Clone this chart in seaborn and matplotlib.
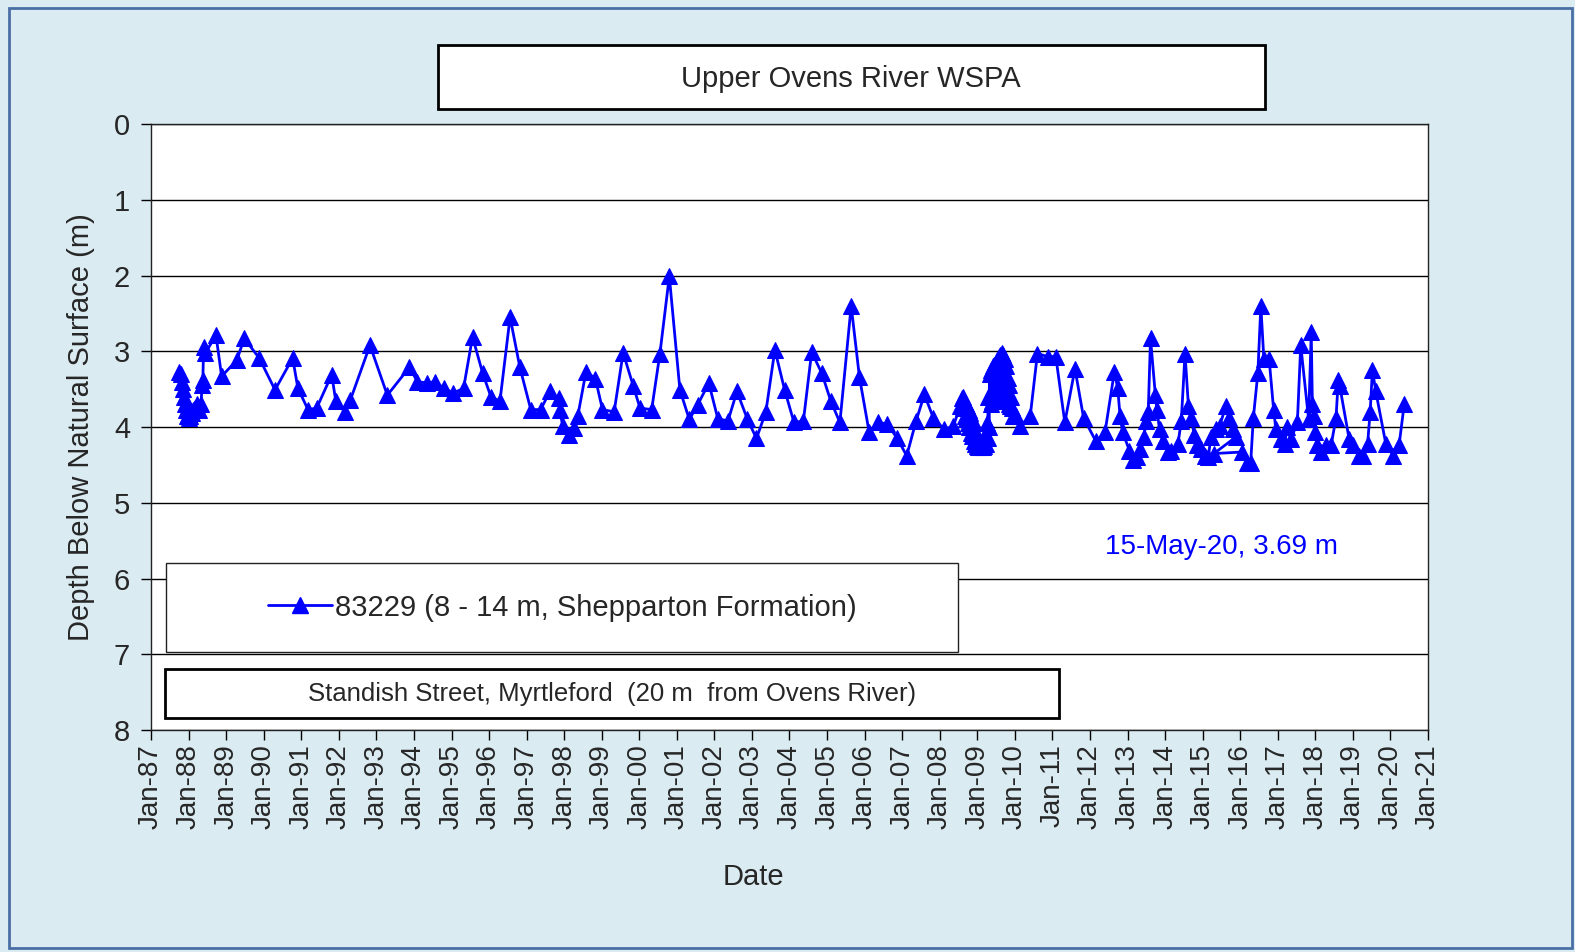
import numpy as np
import pandas as pd
import seaborn as sns
import matplotlib.pyplot as plt
import matplotlib.dates as mdates
from matplotlib.patches import Rectangle
from matplotlib.lines import Line2D

# ---------------- data (decimal year, depth m) ----------------
years = [
    1987.75, 1987.79, 1987.82, 1987.85, 1987.88, 1987.91, 1987.94, 1987.97, 1988.00, 1988.04,
    1988.08, 1988.12, 1988.16, 1988.22, 1988.28, 1988.33, 1988.36, 1988.38, 1988.40, 1988.45,
    1988.73, 1988.88, 1989.28, 1989.48, 1989.88, 1990.30, 1990.77, 1990.91, 1991.18, 1991.41,
    1991.81, 1991.92, 1992.16, 1992.31, 1992.83, 1993.29, 1993.88, 1994.09, 1994.36, 1994.56,
    1994.80, 1995.05, 1995.32, 1995.56, 1995.83, 1996.05, 1996.29, 1996.56, 1996.82, 1997.11,
    1997.37, 1997.62, 1997.85, 1997.88, 1997.96, 1998.12, 1998.27, 1998.36, 1998.58, 1998.83,
    1999.02, 1999.33, 1999.57, 1999.84, 2000.02, 2000.33, 2000.55, 2000.80, 2001.08, 2001.33,
    2001.55, 2001.85, 2002.09, 2002.36, 2002.60, 2002.88, 2003.12, 2003.37, 2003.61, 2003.87,
    2004.12, 2004.37, 2004.59, 2004.86, 2005.10, 2005.34, 2005.64, 2005.86, 2006.12, 2006.36,
    2006.60, 2006.87, 2007.12, 2007.37, 2007.59, 2007.83, 2008.12, 2008.36,
    # dense logger period 2008-2009
    2008.55, 2008.58, 2008.61, 2008.63, 2008.65, 2008.67, 2008.69, 2008.71, 2008.73, 2008.75,
    2008.77, 2008.79, 2008.81, 2008.83, 2008.85, 2008.87, 2008.89, 2008.91, 2008.93, 2008.95,
    2008.97, 2008.99, 2009.01, 2009.03, 2009.05, 2009.07, 2009.09, 2009.11, 2009.13, 2009.15,
    2009.17, 2009.19, 2009.21, 2009.23, 2009.25, 2009.27, 2009.29, 2009.31, 2009.33, 2009.35,
    2009.37, 2009.39, 2009.41, 2009.43, 2009.45, 2009.47, 2009.49, 2009.51, 2009.53, 2009.55,
    2009.57, 2009.59, 2009.61, 2009.63, 2009.65, 2009.67, 2009.69, 2009.71, 2009.73, 2009.75,
    2009.77, 2009.79, 2009.81, 2009.83, 2009.85, 2009.87, 2009.90, 2009.93, 2009.96,
    # back to manual readings
    2010.03, 2010.14, 2010.41, 2010.60, 2010.87, 2011.09, 2011.33, 2011.60, 2011.83, 2012.16,
    2012.40, 2012.65, 2012.74, 2012.80, 2012.87, 2013.05, 2013.14, 2013.25, 2013.34, 2013.43,
    2013.50, 2013.55, 2013.61, 2013.74, 2013.78, 2013.85, 2013.94, 2014.07, 2014.15, 2014.34,
    2014.43, 2014.53, 2014.62, 2014.68, 2014.78, 2014.85, 2014.95, 2015.05, 2015.15, 2015.22,
    2015.35, 2015.45, 2015.62, 2015.70, 2015.80, 2015.89, 2015.30, 2016.06, 2016.19, 2016.28,
    2016.35, 2016.47, 2016.55, 2016.63, 2016.77, 2016.89, 2016.95, 2017.08, 2017.18, 2017.25,
    2017.35, 2017.52, 2017.61, 2017.82, 2017.89, 2017.92, 2017.95, 2018.00, 2018.05, 2018.15,
    2018.28, 2018.42, 2018.55, 2018.61, 2018.65, 2018.90, 2019.00, 2019.16, 2019.28, 2019.39,
    2019.46, 2019.52, 2019.61, 2019.88, 2020.08, 2020.23, 2020.37,
]
depth = [
    3.27, 3.30, 3.40, 3.50, 3.60, 3.70, 3.78, 3.85, 3.88, 3.86,
    3.82, 3.78, 3.75, 3.70, 3.78, 3.70, 3.45, 3.38, 2.95, 3.02,
    2.79, 3.33, 3.12, 2.83, 3.09, 3.51, 3.09, 3.49, 3.77, 3.75,
    3.31, 3.66, 3.80, 3.64, 2.92, 3.58, 3.21, 3.40, 3.42, 3.40,
    3.49, 3.55, 3.49, 2.81, 3.29, 3.60, 3.66, 2.55, 3.21, 3.77,
    3.77, 3.53, 3.62, 3.77, 3.99, 4.10, 4.01, 3.86, 3.27, 3.36,
    3.77, 3.80, 3.02, 3.46, 3.75, 3.77, 3.03, 2.01, 3.51, 3.90,
    3.71, 3.42, 3.89, 3.92, 3.53, 3.90, 4.15, 3.80, 2.98, 3.51,
    3.94, 3.92, 3.01, 3.29, 3.66, 3.94, 2.40, 3.34, 4.07, 3.94,
    3.96, 4.15, 4.38, 3.92, 3.57, 3.88, 4.03, 3.99,
    3.72, 3.62, 3.60, 3.75, 3.66, 3.85, 3.70, 3.90, 3.72, 3.95,
    3.78, 4.00, 3.82, 4.08, 3.90, 4.12, 3.95, 4.18, 4.05, 4.22,
    4.10, 4.25, 4.15, 4.26, 4.20, 4.27, 4.22, 4.26, 4.20, 4.27,
    4.22, 4.25, 4.10, 4.22, 3.95, 4.15, 3.60, 4.00, 3.30, 3.70,
    3.25, 3.65, 3.20, 3.62, 3.18, 3.60, 3.15, 3.58, 3.12, 3.55,
    3.08, 3.50, 3.05, 3.45, 3.02, 3.50, 3.05, 3.55, 3.10, 3.60,
    3.20, 3.65, 3.35, 3.70, 3.45, 3.72, 3.60, 3.75, 3.85,
    3.85, 3.99, 3.85, 3.03, 3.07, 3.07, 3.94, 3.23, 3.88, 4.19,
    4.07, 3.27, 3.49, 3.85, 4.07, 4.31, 4.43, 4.40, 4.29, 4.13,
    3.92, 3.80, 2.83, 3.58, 3.77, 4.03, 4.19, 4.33, 4.31, 4.23,
    3.92, 3.03, 3.72, 3.88, 4.10, 4.24, 4.29, 4.38, 4.40, 4.13,
    4.03, 3.99, 3.72, 3.88, 4.03, 4.13, 4.35, 4.33, 4.47, 4.47,
    3.88, 3.29, 2.40, 3.10, 3.10, 3.77, 4.03, 4.16, 4.22, 4.00,
    4.16, 3.94, 2.92, 3.90, 2.75, 3.70, 3.85, 4.07, 4.24, 4.33,
    4.24, 4.24, 3.88, 3.38, 3.46, 4.16, 4.24, 4.38, 4.38, 4.23,
    3.80, 3.25, 3.53, 4.23, 4.38, 4.24, 3.69,
]

series_label = "83229 (8 - 14 m, Shepparton Formation)"
site_label = "Standish Street, Myrtleford  (20 m  from Ovens River)"
chart_title = "Upper Ovens River WSPA"
last_reading = "15-May-20, 3.69 m"


def to_date(y):
    yr = int(np.floor(y))
    return pd.Timestamp(yr, 1, 1) + pd.Timedelta(days=(y - yr) * 365.25)


df = pd.DataFrame({"date": [to_date(y) for y in years], "depth": depth})

sns.set_style("white")
plt.rcParams["font.family"] = ["Liberation Sans", "DejaVu Sans"]

bg = "#DAEBF2"
fig = plt.figure(figsize=(15.75, 9.52), dpi=100, facecolor=bg)
ax = fig.add_axes([0.0959, 0.2332, 0.8108, 0.6365])
ax.set_facecolor("white")

# outer frame of the chart area
fig.patches.append(Rectangle((0.006, 0.004), 0.992, 0.988, transform=fig.transFigure,
                             fill=False, edgecolor="#4A6FA5", linewidth=2))

sns.lineplot(data=df, x="date", y="depth", sort=False, estimator=None, ax=ax,
             color="blue", linewidth=2, marker="^", markersize=11,
             markeredgecolor="blue", markerfacecolor="blue", zorder=3)

ax.set_ylim(8, 0)
ax.set_yticks(range(0, 9))
ax.set_xlim(pd.Timestamp(1987, 1, 1), pd.Timestamp(2021, 1, 1))
ax.xaxis.set_major_locator(mdates.YearLocator())
ax.xaxis.set_major_formatter(mdates.DateFormatter("%b-%y"))
plt.setp(ax.get_xticklabels(), rotation=90)
ax.tick_params(axis="both", direction="out", length=7, width=1, color="black",
               labelsize=20, bottom=True, left=True)
ax.tick_params(axis="y", labelsize=21, pad=8)
ax.yaxis.grid(True, color="black", linewidth=1)
ax.xaxis.grid(False)
for s in ax.spines.values():
    s.set_color("#222222")
    s.set_linewidth(1)

ax.set_xlabel("Date", fontsize=21)
ax.xaxis.set_label_coords(0.472, -0.22)
ax.set_ylabel("Depth Below Natural Surface (m)", fontsize=21, labelpad=14)

# title box
fig.text(0.5405, 0.917, chart_title, ha="center", va="center", fontsize=21)
fig.patches.append(Rectangle((0.278, 0.886), 0.525, 0.067, transform=fig.transFigure,
                             facecolor="white", edgecolor="black", linewidth=2, zorder=0))

# legend box
ax.add_patch(Rectangle((0.012, 0.128), 0.62, 0.148, transform=ax.transAxes,
                       facecolor="white", edgecolor="#222222", linewidth=1, zorder=4))
handle = Line2D([], [], color="blue", linewidth=2, marker="^", markersize=11)
leg = ax.legend([handle], [series_label], loc="center", frameon=False,
                bbox_to_anchor=(0.322, 0.202), fontsize=21, handlelength=2.2,
                handletextpad=0.1)
leg.set_zorder(5)

# site box
ax.add_patch(Rectangle((0.011, 0.02), 0.7, 0.08, transform=ax.transAxes,
                       facecolor="white", edgecolor="black", linewidth=2, zorder=4))
ax.text(0.361, 0.06, site_label, transform=ax.transAxes, ha="center", va="center",
        fontsize=18.5, zorder=5)

ax.text(0.838, 0.302, last_reading, transform=ax.transAxes, ha="center", va="center",
        fontsize=20, color="blue", zorder=5)

fig.savefig("out.png", dpi=100, facecolor=bg)
